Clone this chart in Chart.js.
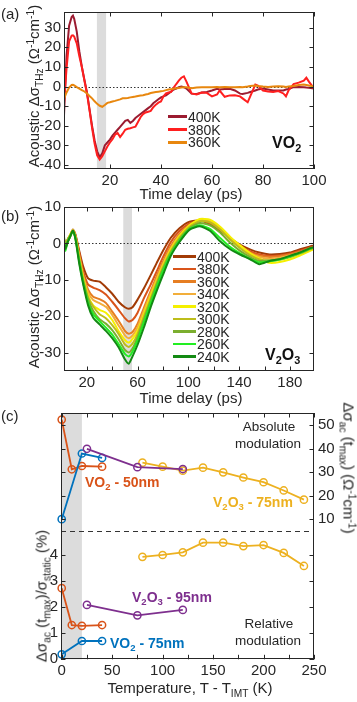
<!DOCTYPE html>
<html>
<head>
<meta charset="utf-8">
<title>Acoustic THz conductivity</title>
<script src="https://cdn.jsdelivr.net/npm/chart.js@4.4.1/dist/chart.umd.min.js"></script>
<style>
  body { margin: 0; background: #fff; }
  #fig { position: relative; width: 357px; height: 702px; overflow: hidden;
         font-family: "Liberation Sans", Arial, Helvetica, sans-serif; color: #262626; }
  #fig canvas { position: absolute; left: 0; }
  .lbl { position: absolute; white-space: nowrap; line-height: 1; transform: translate(0, -50%); }
  .mid { transform: translate(-50%, -50%); }
  .up { transform: translate(-50%, -50%) rotate(-90deg); }
  .down { transform: translate(-50%, -50%) rotate(90deg); }
  .b { font-weight: bold; }
  sub, sup { font-size: 68%; line-height: 0; position: relative; vertical-align: baseline; }
  sub { top: 0.35em; }
  sup { top: -0.5em; }
  .key { position: absolute; height: 2.5px; }
</style>
</head>
<body>
<div id="fig">
  <canvas id="chartA" width="357" height="186" style="top:0"></canvas>
  <canvas id="chartB" width="357" height="195" style="top:195px"></canvas>
  <canvas id="chartC" width="357" height="302" style="top:400px"></canvas>

  <!-- panel letters -->
  <div class="lbl" style="left:1px;top:13px;font-size:15px">(a)</div>
  <div class="lbl" style="left:1px;top:215px;font-size:15px">(b)</div>
  <div class="lbl" style="left:1px;top:415px;font-size:15px">(c)</div>

  <!-- axis titles -->
  <div class="lbl up" style="left:33px;top:86px;font-size:15px">Acoustic &Delta;&sigma;<sub>THz</sub> (&Omega;<sup>-1</sup>cm<sup>-1</sup>)</div>
  <div class="lbl mid" style="left:191px;top:193px;font-size:15px">Time delay (ps)</div>
  <div class="lbl up" style="left:33px;top:287px;font-size:15px">Acoustic &Delta;&sigma;<sub>THz</sub> (&Omega;<sup>-1</sup>cm<sup>-1</sup>)</div>
  <div class="lbl mid" style="left:191px;top:397px;font-size:15px">Time delay (ps)</div>
  <div class="lbl up" style="left:41px;top:596px;font-size:15px">&Delta;&sigma;<sub>ac</sub> (t<sub>max</sub>)/&sigma;<sub>static</sub> (%)</div>
  <div class="lbl down" style="left:349px;top:468px;font-size:15px;color:#1a1a1a">&Delta;&sigma;<sub>ac</sub> (t<sub>max</sub>) (&Omega;<sup>-1</sup>cm<sup>-1</sup>)</div>
  <div class="lbl mid" style="left:190px;top:687px;font-size:15px">Temperature, T - T<sub>IMT</sub> (K)</div>

  <!-- in-plot notes -->
  <div class="lbl b" style="left:272px;top:143px;font-size:16px;color:#111">VO<sub>2</sub></div>
  <div class="lbl b" style="left:265px;top:355px;font-size:16px;color:#111">V<sub>2</sub>O<sub>3</sub></div>
  <div class="lbl mid" style="left:269px;top:427px;font-size:13.5px">Absolute</div>
  <div class="lbl mid" style="left:268px;top:443.5px;font-size:13.5px">modulation</div>
  <div class="lbl mid" style="left:269px;top:624px;font-size:13.5px">Relative</div>
  <div class="lbl mid" style="left:268px;top:641px;font-size:13.5px">modulation</div>
  <div class="lbl b" style="left:85px;top:482px;font-size:14px;color:#d95319">VO<sub>2</sub> - 50nm</div>
  <div class="lbl b" style="left:213px;top:502px;font-size:14px;color:#edb120">V<sub>2</sub>O<sub>3</sub> - 75nm</div>
  <div class="lbl b" style="left:132px;top:597px;font-size:14px;color:#7e2f8e">V<sub>2</sub>O<sub>3</sub> - 95nm</div>
  <div class="lbl b" style="left:110px;top:643px;font-size:14px;color:#0072bd">VO<sub>2</sub> - 75nm</div>
</div>

<script>
// ===== PANEL (a) : VO2 =====
const aTime = [2, 3, 4, 5, 5.5, 6, 7, 8, 9, 10,
  11, 12, 13, 14, 15, 16, 17, 18, 19, 20,
  21, 22, 23, 24, 25, 26, 27, 28, 29, 30,
  31, 32, 33, 34, 35, 36, 37, 38, 39, 40,
  41, 42, 43, 44, 45, 46, 47, 48, 49, 50,
  52, 54, 56, 58, 60, 62, 63, 65, 67, 69,
  71, 72, 74, 75, 77, 78, 80, 82, 84, 86,
  88, 89, 90, 92, 94, 96, 97, 98, 100];
const a400 = [-14.8, 15.7, 31, 35.5, 36.2, 34.5, 28, 18, 10, 3.5,
  -3, -11.5, -20, -27.5, -33, -36, -34, -30, -28.5, -27,
  -25, -23.5, -22, -20.5, -19, -17.5, -17, -18.5, -17.5, -16,
  -15, -14, -13, -12, -11, -10, -8.5, -7.5, -6.5, -5.5,
  -5, -4.5, -3.5, -2.5, -1.5, -1, -0.3, 0, -0.3, -1,
  -3.6, -3.8, -3, -2.8, -2, -1.1, -1.5, -1.2, -1.1, -2,
  -3.6, -3.8, -3.2, -2.8, -2, -1.5, -1, -1.5, -2, -2,
  -2, -1.5, -1.2, -0.3, -0.2, -0.3, -0.5, -0.6, -1];
const a380 = [-8.4, 9.3, 23, 26, 26.1, 25.5, 22, 15.5, 10, 3,
  -3.5, -12, -21, -29, -35, -37.2, -35.5, -33, -30.5, -28.5,
  -26.8, -24.5, -23.6, -25.7, -24, -22, -21.5, -21.2, -20.8, -20.4,
  -18, -15.6, -14, -13.2, -12.8, -12.4, -10.5, -9.2, -8.2, -7.6,
  -5, -3.5, -3, -2.7, -0.5, 1.3, 3, 4.5, 5.2, 2.5,
  -3.5, -4, -3, -3.2, -5, -4, -2, -5.2, -4.5, -4.4,
  -5, -6, -8, -5, 1, 0.5, -2, -2.5, -2.8, -2.3,
  -3.5, -5, -2, 1.3, 2, 3, 4.5, 2.5, -1];
const a360 = [-6.3, -3, -0.5, 0.8, 0.9, 0.6, -0.3, -1, -1.8, -2.5,
  -3.5, -4.8, -6, -7.5, -8.8, -9.8, -10.3, -9.4, -8.3, -8,
  -7.6, -7.3, -6.9, -6.5, -6, -6, -5.8, -5.5, -5.3, -5.1,
  -4.8, -4.6, -4.4, -4, -3.8, -3.3, -3, -2.8, -2.6, -2.4,
  -2.2, -1.8, -1.5, -1.3, -1.1, -0.9, -0.7, -0.5, -0.4, -0.3,
  -0.8, -0.5, -0.3, -0.4, -0.3, -0.2, -0.3, -0.2, -0.4, -0.3,
  -0.2, -0.3, 0, 0.3, 0.5, 0.3, 0, -0.2, 0, 0.2,
  0, -0.2, 0, 0.3, 0.8, 1, 0.8, 0.5, 0];
const aNames = ["400K", "380K", "360K"];
const aColors = ["#9b1b30", "#ff1f1f", "#e8870e"];
const aXTicks = [20, 40, 60, 80, 100];
const aYTicks = [-40, -30, -20, -10, 0, 10, 20, 30];
const aBand = [14.9, 18.5];

// ===== PANEL (b) : V2O3 =====
const bTime = [2, 3, 5, 7, 9, 11, 14, 17, 21, 25, 30, 35, 40, 45, 50, 53, 56, 60, 65, 70,
  75, 80, 86, 93, 101, 109, 117, 125, 133, 141, 149, 156, 164, 172, 180, 188, 196, 199];
const b400 = [1.1, 0.3, 0.6, 2, 3.8, 2.5, -2, -6.2, -9.6, -10.2, -10.5, -12, -13.8, -16, -17.5, -17.9, -17.5, -15.4, -12.3, -8.9,
  -5.4, -2, 1.5, 4.2, 6, 6.3, 5.3, 3.6, 1.4, -0.4, -1.7, -2.5, -3, -2.9, -2.5, -1.6, -0.8, -0.6];
const b380 = [1.5, 0, 1, 2.2, 3.7, 2.2, -2.5, -7.5, -11.3, -12.1, -12.8, -14, -16, -18.2, -20.5, -21.4, -21, -19, -15, -11.5,
  -7.7, -3.8, 0.3, 3.4, 5.5, 6.3, 5.6, 3.8, 1.3, -0.8, -2.2, -3, -3.4, -3.3, -2.8, -2, -1.1, -0.9];
const b360 = [0.8, -0.5, 1.2, 2.3, 3.6, 2, -3, -8.3, -12.7, -14.6, -15.3, -16.3, -18.7, -21.2, -24, -24.8, -24.3, -22, -17.6, -13.3,
  -9, -5, -0.8, 2.6, 5.2, 6.4, 6, 4.2, 1.5, -0.8, -2.5, -3.4, -3.7, -3.5, -3, -2.3, -1.3, -1];
const b340 = [1.2, -0.8, 1, 2.4, 3.8, 2, -3.5, -8.8, -13.5, -15.5, -16.4, -17.4, -19.6, -22.5, -25.2, -26, -25.3, -23, -18.5, -14,
  -9.7, -5.6, -1.4, 2.2, 5, 6.5, 6.2, 4.3, 1.6, -0.8, -2.7, -3.7, -4.2, -3.9, -3.3, -2.5, -1.5, -1.2];
const b320 = [0.5, -1, 0.8, 2.5, 3.5, 1.8, -4, -9.2, -14.4, -17, -18.2, -19, -21, -24, -26.5, -27.2, -26.2, -24, -19.4, -14.7,
  -10.4, -6.1, -1.8, 2, 5, 6.7, 6.5, 4.6, 1.8, -0.6, -2.8, -4.2, -5.3, -5.1, -4.4, -3.3, -2, -1.6];
const b300 = [-1.5, -1.2, 1.2, 2.3, 3.6, 1.8, -4.2, -9.7, -14.8, -17.3, -19.4, -20.5, -22.4, -24.8, -27.7, -28.4, -27.5, -24.8, -20, -15.4,
  -10.8, -6.5, -2.2, 1.6, 4.6, 6.1, 5.8, 3.8, 1, -1.4, -3.3, -4.4, -4.7, -4.5, -3.8, -2.8, -1.6, -1.3];
const b280 = [-2, -1.5, 1, 2.2, 3.4, 1.6, -4.5, -10.1, -15.3, -18.5, -20.8, -22, -23.8, -26.3, -29.2, -29.9, -28.8, -25.8, -20.8, -16,
  -11.3, -7, -2.6, 1.1, 4.2, 5.6, 5, 3, 0.2, -2.1, -3.8, -4.8, -4.7, -4.3, -3.6, -2.6, -1.4, -1.1];
const b260 = [2, -2, 0.5, 2, 3.3, 1.5, -5, -10.6, -16.2, -19.4, -21.3, -23.1, -25, -27.6, -30.3, -31, -29.7, -26.6, -21.6, -16.7,
  -12, -7.5, -3, 0.8, 4, 5, 4, 1.5, -1, -2.8, -4.3, -5.2, -4.9, -4.4, -3.6, -2.6, -1.4, -1.1];
const b240 = [0.5, -1.5, 0.4, 2, 3.5, 1.2, -5.5, -11, -17, -20.4, -22.2, -24, -26, -28.5, -31.8, -33, -31, -27.8, -23, -17.8,
  -13.1, -8.6, -3.5, 0.4, 3.8, 4.7, 3.5, 0.6, -1.6, -3.1, -4.4, -5.7, -4.8, -4.3, -3.4, -2.5, -1.3, -1];
const bNames = ["400K", "380K", "360K", "340K", "320K", "300K", "280K", "260K", "240K"];
const bColors = ["#a23b06", "#d9541a", "#e67e22", "#f2ae3a", "#f5f000", "#bdbd1a", "#7bae2f", "#22ee22", "#138a13"];
const bXTicks = [20, 40, 60, 80, 100, 120, 140, 160, 180];
const bXLabels = [20, 60, 100, 140, 180];
const bYTicks = [-30, -20, -10, 0, 10];
const bBand = [48.7, 55.6];

// ===== PANEL (c) : modulation vs temperature =====
const cT_VO2_50 = [0, 10, 20, 40];
const cAbs_VO2_50 = [52.3, 31.2, 32.6, 32.3];
const cRel_VO2_50 = [2.72, 1.31, 1.28, 1.31];
const cT_VO2_75 = [0, 20, 40];
const cAbs_VO2_75 = [10, 37.9, 36];
const cRel_VO2_75 = [0.19, 0.7, 0.7];
const cT_V2O3_95 = [25, 75, 120];
const cAbs_V2O3_95 = [39.9, 32.1, 31.3];
const cRel_V2O3_95 = [2.08, 1.68, 1.89];
const cT_V2O3_75 = [80, 100, 120, 140, 160, 180, 200, 220, 240];
const cAbs_V2O3_75 = [34, 32.3, 30.6, 31.9, 29.9, 27.7, 25.7, 22.2, 18.3];
const cRel_V2O3_75 = [3.92, 3.99, 4.09, 4.46, 4.46, 4.33, 4.37, 4.07, 3.57];
const cXTicks = [0, 25, 50, 75, 100, 125, 150, 175, 200, 225, 250];
const cXLabels = [0, 50, 100, 150, 200, 250];
const cYTicks = [0, 1, 2, 3, 4];
const cY2Ticks = [10, 20, 30, 40, 50];
const cBand = [-0.7, 20];
const cDivider = 4.92;

// ===== helpers =====
const FONT = '"Liberation Sans", Arial, Helvetica, sans-serif';
Chart.defaults.font.family = FONT;
Chart.defaults.font.size = 15;
Chart.defaults.color = "#262626";

const xy = (xs, ys) => xs.map((x, i) => ({ x, y: ys[i] }));
const setTicks = list => s => { s.ticks = list.map(v => ({ value: v })); };

// band, reference line, box and inward tick marks on every side
const deco = {
  id: "deco",
  beforeDatasetsDraw(chart, args, o) {
    const { ctx, chartArea: a, scales } = chart;
    ctx.save();
    if (o.band) {
      const x1 = Math.max(scales.x.getPixelForValue(o.band[0]), a.left);
      const x2 = scales.x.getPixelForValue(o.band[1]);
      ctx.fillStyle = "#dcdcdc";
      ctx.fillRect(x1, a.top, x2 - x1, a.bottom - a.top);
    }
    if (o.line != null) {
      const y = Math.round(scales.y.getPixelForValue(o.line)) + 0.5;
      ctx.strokeStyle = "#333";
      ctx.lineWidth = o.lineWidth || 1;
      ctx.setLineDash(o.dash);
      ctx.beginPath();
      ctx.moveTo(a.left, y);
      ctx.lineTo(a.right, y);
      ctx.stroke();
    }
    ctx.restore();
  },
  afterDatasetsDraw(chart) {
    const { ctx, chartArea: a } = chart;
    const L = 4.5;
    ctx.save();
    ctx.strokeStyle = "#262626";
    ctx.lineWidth = 1;
    ctx.beginPath();
    Object.values(chart.scales).forEach(s => {
      s.ticks.forEach(t => {
        const p = Math.round(s.getPixelForValue(t.value)) + 0.5;
        if (s.isHorizontal()) {
          ctx.moveTo(p, a.bottom); ctx.lineTo(p, a.bottom - L);
          ctx.moveTo(p, a.top); ctx.lineTo(p, a.top + L);
        } else {
          ctx.moveTo(a.left, p); ctx.lineTo(a.left + L, p);
          ctx.moveTo(a.right, p); ctx.lineTo(a.right - L, p);
        }
      });
    });
    ctx.stroke();
    ctx.strokeRect(Math.round(a.left) + 0.5, Math.round(a.top) + 0.5,
      Math.round(a.right - a.left) - 1, Math.round(a.bottom - a.top) - 1);
    ctx.restore();
  }
};
Chart.register(deco);

const axisBase = {
  type: "linear",
  grid: { display: false, drawTicks: false },
  border: { display: false },
  ticks: { autoSkip: false, maxRotation: 0, padding: 3 }
};

function lineSets(time, series, names, colors, width, tension) {
  return series.map((vals, i) => ({
    label: names[i],
    data: xy(time, vals),
    borderColor: colors[i],
    borderWidth: width,
    pointRadius: 0,
    tension: tension,
    order: series.length - i
  }));
}

function addKey(names, colors, left, len, top, step, size) {
  const fig = document.getElementById("fig");
  names.forEach((n, i) => {
    const y = top + i * step;
    const k = document.createElement("div");
    k.className = "key";
    k.style.cssText = `left:${left}px;top:${y - 1.25}px;width:${len}px;background:${colors[i]}`;
    const t = document.createElement("div");
    t.className = "lbl";
    t.style.cssText = `left:${left + len + 1}px;top:${y}px;font-size:${size}px`;
    t.textContent = n;
    fig.appendChild(k);
    fig.appendChild(t);
  });
}

// ===== CHART (a) =====
new Chart(document.getElementById("chartA"), {
  type: "line",
  data: { datasets: lineSets(aTime, [a400, a380, a360], aNames, aColors, 2, 0) },
  options: {
    responsive: false, animation: false, devicePixelRatio: 1,
    layout: { padding: { left: 0, right: 43, top: 4, bottom: 0 } },
    plugins: { legend: { display: false }, tooltip: { enabled: false },
      deco: { band: aBand, line: 0, dash: [1.5, 2] } },
    scales: {
      x: { ...axisBase, min: 2, max: 100, afterBuildTicks: setTicks(aXTicks),
        afterFit: s => { s.height = 17; } },
      y: { ...axisBase, min: -42, max: 38, afterBuildTicks: setTicks(aYTicks),
        afterFit: s => { s.width = 64; } }
    }
  }
});
addKey(aNames, aColors, 168, 19, 116.7, 12.8, 14);

// ===== CHART (b) =====
new Chart(document.getElementById("chartB"), {
  type: "line",
  data: { datasets: lineSets(bTime, [b400, b380, b360, b340, b320, b300, b280, b260, b240],
    bNames, bColors, 2, 0.2) },
  options: {
    responsive: false, animation: false, devicePixelRatio: 1,
    layout: { padding: { left: 0, right: 43, top: 10, bottom: 0 } },
    plugins: { legend: { display: false }, tooltip: { enabled: false },
      deco: { band: bBand, line: 0, dash: [1.5, 2] } },
    scales: {
      x: { ...axisBase, min: 2, max: 199, afterBuildTicks: setTicks(bXTicks),
        ticks: { ...axisBase.ticks, callback: v => bXLabels.includes(v) ? v : "" },
        afterFit: s => { s.height = 19; } },
      y: { ...axisBase, min: -35, max: 10, afterBuildTicks: setTicks(bYTicks),
        afterFit: s => { s.width = 64; } }
    }
  }
});
addKey(bNames, bColors, 173, 23, 256.7, 12.5, 14);

// ===== CHART (c) =====
function markerSet(T, vals, color, axis) {
  return {
    data: xy(T, vals),
    yAxisID: axis,
    borderColor: color,
    borderWidth: 1.8,
    pointRadius: 3.6,
    pointBorderWidth: 1.5,
    pointBackgroundColor: "rgba(255,255,255,0)",
    pointBorderColor: color,
    tension: 0,
    clip: false
  };
}

new Chart(document.getElementById("chartC"), {
  type: "line",
  data: {
    datasets: [
      markerSet(cT_V2O3_95, cAbs_V2O3_95, "#7e2f8e", "y2"),
      markerSet(cT_V2O3_75, cAbs_V2O3_75, "#edb120", "y2"),
      markerSet(cT_VO2_75, cAbs_VO2_75, "#0072bd", "y2"),
      markerSet(cT_VO2_50, cAbs_VO2_50, "#d95319", "y2"),
      markerSet(cT_V2O3_95, cRel_V2O3_95, "#7e2f8e", "y"),
      markerSet(cT_V2O3_75, cRel_V2O3_75, "#edb120", "y"),
      markerSet(cT_VO2_75, cRel_VO2_75, "#0072bd", "y"),
      markerSet(cT_VO2_50, cRel_VO2_50, "#d95319", "y")
    ]
  },
  options: {
    responsive: false, animation: false, devicePixelRatio: 1,
    layout: { padding: { left: 0, right: 0, top: 8.3, bottom: 0 } },
    plugins: { legend: { display: false }, tooltip: { enabled: false },
      deco: { band: cBand, line: cDivider, dash: [5, 4], lineWidth: 1.2 } },
    scales: {
      x: { ...axisBase, min: -0.7, max: 250, afterBuildTicks: setTicks(cXTicks),
        ticks: { ...axisBase.ticks, callback: v => cXLabels.includes(v) ? v : "" },
        afterFit: s => { s.height = 42.7; } },
      y: { ...axisBase, position: "left", min: 0, max: 9.42, afterBuildTicks: setTicks(cYTicks),
        afterFit: s => { s.width = 61; } },
      y2: { ...axisBase, position: "right", min: -49.5, max: 55.1, afterBuildTicks: setTicks(cY2Ticks),
        ticks: { ...axisBase.ticks, padding: 4 },
        afterFit: s => { s.width = 43; } }
    }
  }
});
</script>
</body>
</html>
